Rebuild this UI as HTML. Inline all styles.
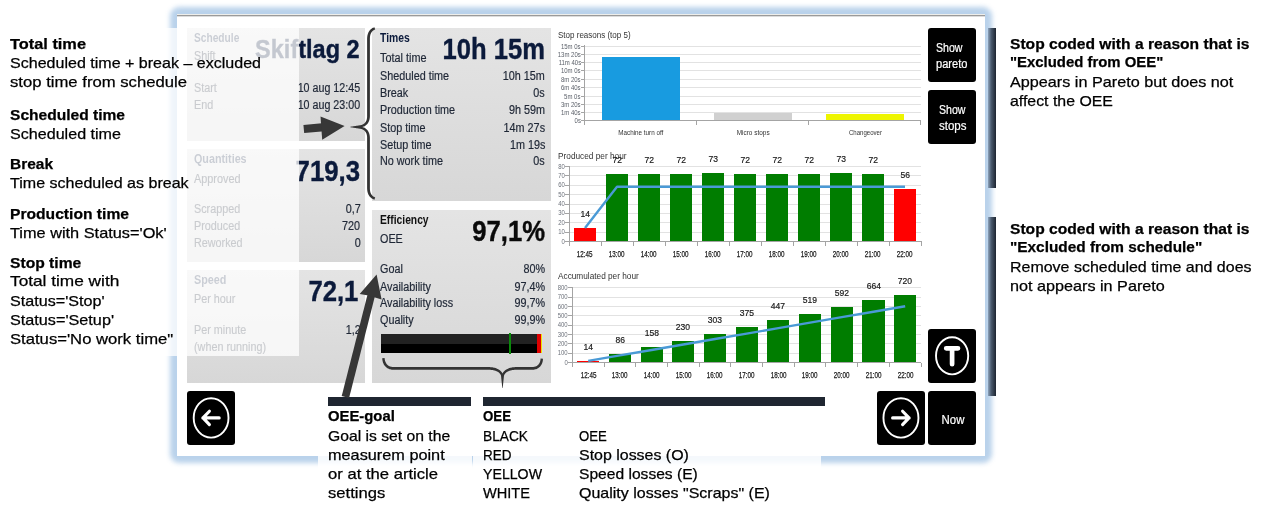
<!DOCTYPE html><html><head><meta charset="utf-8"><style>
html,body{margin:0;padding:0;background:#fff;}
body{width:1266px;height:512px;position:relative;overflow:hidden;font-family:'Liberation Sans', sans-serif;}
</style></head><body>
<div style="position:absolute;left:170px;top:7px;width:822px;height:456px;background:#b9d2eb;border-radius:9px;filter:blur(2.5px);"></div>
<div style="position:absolute;left:177px;top:14px;width:808px;height:442px;background:#fff;"></div>
<div style="position:absolute;left:177px;top:14px;width:808px;height:1px;background:#eeeeeb;"></div>
<div style="position:absolute;left:177px;top:15px;width:808px;height:1px;background:#9a9a9a;"></div>
<div style="position:absolute;left:177px;top:16px;width:808px;height:1px;background:#dcdcdc;"></div>
<div style="position:absolute;left:187px;top:28px;width:178px;height:113px;background:linear-gradient(#e4e4e4,#d7d7d7);"></div>
<div style="position:absolute;left:187px;top:149px;width:178px;height:113px;background:linear-gradient(#e4e4e4,#d7d7d7);"></div>
<div style="position:absolute;left:187px;top:270px;width:178px;height:113px;background:linear-gradient(#e4e4e4,#d7d7d7);"></div>
<div style="position:absolute;left:372px;top:28px;width:179px;height:173px;background:linear-gradient(#e4e4e4,#d7d7d7);"></div>
<div style="position:absolute;left:372px;top:210px;width:179px;height:173px;background:linear-gradient(#e4e4e4,#d7d7d7);"></div>
<div style="position:absolute;left:381px;top:334px;width:161px;height:9.5px;background:#222;"></div>
<div style="position:absolute;left:381px;top:343.5px;width:161px;height:9.5px;background:#000;"></div>
<div style="position:absolute;left:537px;top:334px;width:4.399999999999977px;height:19px;background:#e00000;"></div>
<div style="position:absolute;left:541.4px;top:334px;width:0.6000000000000227px;height:19px;background:#f0e000;"></div>
<div style="position:absolute;left:509px;top:333px;width:1.6000000000000227px;height:21px;background:#0a8a0a;"></div>
<div style="position:absolute;left:585px;top:46px;width:336px;height:1px;background:#e2e2e2;"></div>
<div style="position:absolute;left:581px;top:46px;width:4px;height:1px;background:#a4a4a4;"></div>
<div style="position:absolute;left:585px;top:54px;width:336px;height:1px;background:#e2e2e2;"></div>
<div style="position:absolute;left:581px;top:54px;width:4px;height:1px;background:#a4a4a4;"></div>
<div style="position:absolute;left:585px;top:62px;width:336px;height:1px;background:#e2e2e2;"></div>
<div style="position:absolute;left:581px;top:62px;width:4px;height:1px;background:#a4a4a4;"></div>
<div style="position:absolute;left:585px;top:70px;width:336px;height:1px;background:#e2e2e2;"></div>
<div style="position:absolute;left:581px;top:70px;width:4px;height:1px;background:#a4a4a4;"></div>
<div style="position:absolute;left:585px;top:79px;width:336px;height:1px;background:#e2e2e2;"></div>
<div style="position:absolute;left:581px;top:79px;width:4px;height:1px;background:#a4a4a4;"></div>
<div style="position:absolute;left:585px;top:87px;width:336px;height:1px;background:#e2e2e2;"></div>
<div style="position:absolute;left:581px;top:87px;width:4px;height:1px;background:#a4a4a4;"></div>
<div style="position:absolute;left:585px;top:96px;width:336px;height:1px;background:#e2e2e2;"></div>
<div style="position:absolute;left:581px;top:96px;width:4px;height:1px;background:#a4a4a4;"></div>
<div style="position:absolute;left:585px;top:104px;width:336px;height:1px;background:#e2e2e2;"></div>
<div style="position:absolute;left:581px;top:104px;width:4px;height:1px;background:#a4a4a4;"></div>
<div style="position:absolute;left:585px;top:112px;width:336px;height:1px;background:#e2e2e2;"></div>
<div style="position:absolute;left:581px;top:112px;width:4px;height:1px;background:#a4a4a4;"></div>
<div style="position:absolute;left:581px;top:120px;width:4px;height:1px;background:#a4a4a4;"></div>
<div style="position:absolute;left:601.7px;top:56.6px;width:78.5px;height:64.4px;background:#189be0;"></div>
<div style="position:absolute;left:713.9px;top:112.9px;width:78.10000000000002px;height:8.099999999999994px;background:#d0d0d0;"></div>
<div style="position:absolute;left:825.9px;top:114px;width:78.10000000000002px;height:7px;background:#eef500;"></div>
<div style="position:absolute;left:584px;top:45px;width:1px;height:76px;background:#a4a4a4;"></div>
<div style="position:absolute;left:584px;top:120px;width:337px;height:1px;background:#a4a4a4;"></div>
<div style="position:absolute;left:584px;top:121px;width:1px;height:4px;background:#a4a4a4;"></div>
<div style="position:absolute;left:696px;top:121px;width:1px;height:4px;background:#a4a4a4;"></div>
<div style="position:absolute;left:808px;top:121px;width:1px;height:4px;background:#a4a4a4;"></div>
<div style="position:absolute;left:920px;top:121px;width:1px;height:4px;background:#a4a4a4;"></div>
<div style="position:absolute;left:569.5px;top:166px;width:351.5px;height:1px;background:#e2e2e2;"></div>
<div style="position:absolute;left:565px;top:166px;width:4px;height:1px;background:#a4a4a4;"></div>
<div style="position:absolute;left:569.5px;top:175px;width:351.5px;height:1px;background:#e2e2e2;"></div>
<div style="position:absolute;left:565px;top:175px;width:4px;height:1px;background:#a4a4a4;"></div>
<div style="position:absolute;left:569.5px;top:185px;width:351.5px;height:1px;background:#e2e2e2;"></div>
<div style="position:absolute;left:565px;top:185px;width:4px;height:1px;background:#a4a4a4;"></div>
<div style="position:absolute;left:569.5px;top:194px;width:351.5px;height:1px;background:#e2e2e2;"></div>
<div style="position:absolute;left:565px;top:194px;width:4px;height:1px;background:#a4a4a4;"></div>
<div style="position:absolute;left:569.5px;top:204px;width:351.5px;height:1px;background:#e2e2e2;"></div>
<div style="position:absolute;left:565px;top:204px;width:4px;height:1px;background:#a4a4a4;"></div>
<div style="position:absolute;left:569.5px;top:213px;width:351.5px;height:1px;background:#e2e2e2;"></div>
<div style="position:absolute;left:565px;top:213px;width:4px;height:1px;background:#a4a4a4;"></div>
<div style="position:absolute;left:569.5px;top:222px;width:351.5px;height:1px;background:#e2e2e2;"></div>
<div style="position:absolute;left:565px;top:222px;width:4px;height:1px;background:#a4a4a4;"></div>
<div style="position:absolute;left:569.5px;top:232px;width:351.5px;height:1px;background:#e2e2e2;"></div>
<div style="position:absolute;left:565px;top:232px;width:4px;height:1px;background:#a4a4a4;"></div>
<div style="position:absolute;left:565px;top:241px;width:4px;height:1px;background:#a4a4a4;"></div>
<div style="position:absolute;left:568.5px;top:166.1px;width:1.0px;height:75.9px;background:#a4a4a4;"></div>
<div style="position:absolute;left:568.5px;top:241px;width:353.0px;height:1px;background:#a4a4a4;"></div>
<div style="position:absolute;left:568.5px;top:242px;width:1.0px;height:4px;background:#a4a4a4;"></div>
<div style="position:absolute;left:600.5px;top:242px;width:1.0px;height:4px;background:#a4a4a4;"></div>
<div style="position:absolute;left:632.5px;top:242px;width:1.0px;height:4px;background:#a4a4a4;"></div>
<div style="position:absolute;left:664.5px;top:242px;width:1.0px;height:4px;background:#a4a4a4;"></div>
<div style="position:absolute;left:696.5px;top:242px;width:1.0px;height:4px;background:#a4a4a4;"></div>
<div style="position:absolute;left:728.5px;top:242px;width:1.0px;height:4px;background:#a4a4a4;"></div>
<div style="position:absolute;left:760.5px;top:242px;width:1.0px;height:4px;background:#a4a4a4;"></div>
<div style="position:absolute;left:792.5px;top:242px;width:1.0px;height:4px;background:#a4a4a4;"></div>
<div style="position:absolute;left:824.5px;top:242px;width:1.0px;height:4px;background:#a4a4a4;"></div>
<div style="position:absolute;left:856.5px;top:242px;width:1.0px;height:4px;background:#a4a4a4;"></div>
<div style="position:absolute;left:888.5px;top:242px;width:1.0px;height:4px;background:#a4a4a4;"></div>
<div style="position:absolute;left:920.5px;top:242px;width:1.0px;height:4px;background:#a4a4a4;"></div>
<div style="position:absolute;left:573.8px;top:227.89249999999998px;width:22.40000000000009px;height:13.107500000000016px;background:#ff0000;"></div>
<div style="position:absolute;left:605.8px;top:173.59px;width:22.40000000000009px;height:67.41px;background:#007d00;"></div>
<div style="position:absolute;left:637.8px;top:173.59px;width:22.40000000000009px;height:67.41px;background:#007d00;"></div>
<div style="position:absolute;left:669.8px;top:173.59px;width:22.40000000000009px;height:67.41px;background:#007d00;"></div>
<div style="position:absolute;left:701.8px;top:172.65375px;width:22.40000000000009px;height:68.34625px;background:#007d00;"></div>
<div style="position:absolute;left:733.8px;top:173.59px;width:22.40000000000009px;height:67.41px;background:#007d00;"></div>
<div style="position:absolute;left:765.8px;top:173.59px;width:22.40000000000009px;height:67.41px;background:#007d00;"></div>
<div style="position:absolute;left:797.8px;top:173.59px;width:22.40000000000009px;height:67.41px;background:#007d00;"></div>
<div style="position:absolute;left:829.8px;top:172.65375px;width:22.40000000000009px;height:68.34625px;background:#007d00;"></div>
<div style="position:absolute;left:861.8px;top:173.59px;width:22.40000000000009px;height:67.41px;background:#007d00;"></div>
<div style="position:absolute;left:893.8px;top:188.57px;width:22.40000000000009px;height:52.43000000000001px;background:#ff0000;"></div>
<svg style="position:absolute;left:0;top:0" width="1266" height="512"><path d="M585.0,227.9 L617.0,186.7 L649.0,186.7 L681.0,186.7 L713.0,186.7 L745.0,186.7 L777.0,186.7 L809.0,186.7 L841.0,186.7 L873.0,186.7 L905.0,186.7" fill="none" stroke="#4a9ad6" stroke-width="2.4" stroke-linejoin="round"/></svg>
<div style="position:absolute;left:572.9px;top:287px;width:348.1px;height:1px;background:#e2e2e2;"></div>
<div style="position:absolute;left:568.4px;top:287px;width:4.0px;height:1px;background:#a4a4a4;"></div>
<div style="position:absolute;left:572.9px;top:297px;width:348.1px;height:1px;background:#e2e2e2;"></div>
<div style="position:absolute;left:568.4px;top:297px;width:4.0px;height:1px;background:#a4a4a4;"></div>
<div style="position:absolute;left:572.9px;top:306px;width:348.1px;height:1px;background:#e2e2e2;"></div>
<div style="position:absolute;left:568.4px;top:306px;width:4.0px;height:1px;background:#a4a4a4;"></div>
<div style="position:absolute;left:572.9px;top:315px;width:348.1px;height:1px;background:#e2e2e2;"></div>
<div style="position:absolute;left:568.4px;top:315px;width:4.0px;height:1px;background:#a4a4a4;"></div>
<div style="position:absolute;left:572.9px;top:325px;width:348.1px;height:1px;background:#e2e2e2;"></div>
<div style="position:absolute;left:568.4px;top:325px;width:4.0px;height:1px;background:#a4a4a4;"></div>
<div style="position:absolute;left:572.9px;top:334px;width:348.1px;height:1px;background:#e2e2e2;"></div>
<div style="position:absolute;left:568.4px;top:334px;width:4.0px;height:1px;background:#a4a4a4;"></div>
<div style="position:absolute;left:572.9px;top:343px;width:348.1px;height:1px;background:#e2e2e2;"></div>
<div style="position:absolute;left:568.4px;top:343px;width:4.0px;height:1px;background:#a4a4a4;"></div>
<div style="position:absolute;left:572.9px;top:353px;width:348.1px;height:1px;background:#e2e2e2;"></div>
<div style="position:absolute;left:568.4px;top:353px;width:4.0px;height:1px;background:#a4a4a4;"></div>
<div style="position:absolute;left:568.4px;top:362px;width:4.0px;height:1px;background:#a4a4a4;"></div>
<div style="position:absolute;left:571.9px;top:287.3px;width:1.0px;height:75.89999999999998px;background:#a4a4a4;"></div>
<div style="position:absolute;left:571.9px;top:362.2px;width:349.6px;height:1.0px;background:#a4a4a4;"></div>
<div style="position:absolute;left:571.9px;top:363.2px;width:1.0px;height:4.0px;background:#a4a4a4;"></div>
<div style="position:absolute;left:603.5909090909091px;top:363.2px;width:1.0px;height:4.0px;background:#a4a4a4;"></div>
<div style="position:absolute;left:635.2818181818182px;top:363.2px;width:1.0px;height:4.0px;background:#a4a4a4;"></div>
<div style="position:absolute;left:666.9727272727273px;top:363.2px;width:1.0px;height:4.0px;background:#a4a4a4;"></div>
<div style="position:absolute;left:698.6636363636363px;top:363.2px;width:1.0px;height:4.0px;background:#a4a4a4;"></div>
<div style="position:absolute;left:730.3545454545455px;top:363.2px;width:1.0px;height:4.0px;background:#a4a4a4;"></div>
<div style="position:absolute;left:762.0454545454545px;top:363.2px;width:1.0px;height:4.0px;background:#a4a4a4;"></div>
<div style="position:absolute;left:793.7363636363636px;top:363.2px;width:1.0px;height:4.0px;background:#a4a4a4;"></div>
<div style="position:absolute;left:825.4272727272727px;top:363.2px;width:1.0px;height:4.0px;background:#a4a4a4;"></div>
<div style="position:absolute;left:857.1181818181818px;top:363.2px;width:1.0px;height:4.0px;background:#a4a4a4;"></div>
<div style="position:absolute;left:888.8090909090909px;top:363.2px;width:1.0px;height:4.0px;background:#a4a4a4;"></div>
<div style="position:absolute;left:920.5px;top:363.2px;width:1.0px;height:4.0px;background:#a4a4a4;"></div>
<div style="position:absolute;left:577.1536363636363px;top:360.88925px;width:22.183636363636424px;height:1.3107499999999845px;background:#ff0000;"></div>
<div style="position:absolute;left:608.8445454545454px;top:354.14825px;width:22.183636363636424px;height:8.05174999999997px;background:#007d00;"></div>
<div style="position:absolute;left:640.5354545454545px;top:347.40725px;width:22.183636363636424px;height:14.792750000000012px;background:#007d00;"></div>
<div style="position:absolute;left:672.2263636363635px;top:340.66625px;width:22.183636363636424px;height:21.533749999999998px;background:#007d00;"></div>
<div style="position:absolute;left:703.9172727272727px;top:333.831625px;width:22.183636363636424px;height:28.368375000000015px;background:#007d00;"></div>
<div style="position:absolute;left:735.6081818181818px;top:327.090625px;width:22.183636363636424px;height:35.109375px;background:#007d00;"></div>
<div style="position:absolute;left:767.2990909090909px;top:320.349625px;width:22.183636363636424px;height:41.850374999999985px;background:#007d00;"></div>
<div style="position:absolute;left:798.9899999999999px;top:313.608625px;width:22.183636363636424px;height:48.59137499999997px;background:#007d00;"></div>
<div style="position:absolute;left:830.680909090909px;top:306.774px;width:22.183636363636424px;height:55.42599999999999px;background:#007d00;"></div>
<div style="position:absolute;left:862.3718181818182px;top:300.033px;width:22.183636363636424px;height:62.16699999999997px;background:#007d00;"></div>
<div style="position:absolute;left:894.0627272727272px;top:294.79px;width:22.183636363636424px;height:67.40999999999997px;background:#007d00;"></div>
<svg style="position:absolute;left:0;top:0" width="1266" height="512"><path d="M588.2,360.9 L619.9,355.4 L651.6,350.0 L683.3,344.5 L715.0,339.0 L746.7,333.6 L778.4,328.1 L810.1,322.6 L841.8,317.1 L873.5,311.7 L905.2,306.2" fill="none" stroke="#4a9ad6" stroke-width="2.4" stroke-linejoin="round"/></svg>
<div style="position:absolute;left:194.40px;top:32.10px;font:bold 12px/12px 'Liberation Sans', sans-serif;color:#24324f;white-space:pre;transform:scaleX(0.8490);transform-origin:left 0;">Schedule</div>
<div style="position:absolute;left:194.40px;top:49.60px;font:normal 12px/12px 'Liberation Sans', sans-serif;color:#1f2736;white-space:pre;transform:scaleX(0.9000);transform-origin:left 0;-webkit-text-stroke:0.2px #1f2736;">Shift</div>
<div style="position:absolute;left:244.01px;top:35.90px;font:bold 26px/26px 'Liberation Sans', sans-serif;color:#0b1a3b;white-space:pre;transform:scaleX(0.9040);transform-origin:right 0;-webkit-text-stroke:0.4px currentColor;">Skiftlag 2</div>
<div style="position:absolute;left:194.40px;top:82.20px;font:normal 12px/12px 'Liberation Sans', sans-serif;color:#1f2736;white-space:pre;transform:scaleX(0.9000);transform-origin:left 0;-webkit-text-stroke:0.2px #1f2736;">Start</div>
<div style="position:absolute;left:289.92px;top:82.20px;font:normal 12px/12px 'Liberation Sans', sans-serif;color:#1f2736;white-space:pre;transform:scaleX(0.8904);transform-origin:right 0;-webkit-text-stroke:0.2px #1f2736;">10 aug 12:45</div>
<div style="position:absolute;left:194.40px;top:98.90px;font:normal 12px/12px 'Liberation Sans', sans-serif;color:#1f2736;white-space:pre;transform:scaleX(0.9000);transform-origin:left 0;-webkit-text-stroke:0.2px #1f2736;">End</div>
<div style="position:absolute;left:289.92px;top:98.90px;font:normal 12px/12px 'Liberation Sans', sans-serif;color:#1f2736;white-space:pre;transform:scaleX(0.8904);transform-origin:right 0;-webkit-text-stroke:0.2px #1f2736;">10 aug 23:00</div>
<div style="position:absolute;left:194.40px;top:153.30px;font:bold 12px/12px 'Liberation Sans', sans-serif;color:#24324f;white-space:pre;transform:scaleX(0.8963);transform-origin:left 0;">Quantities</div>
<div style="position:absolute;left:194.40px;top:172.80px;font:normal 12px/12px 'Liberation Sans', sans-serif;color:#1f2736;white-space:pre;transform:scaleX(0.9071);transform-origin:left 0;-webkit-text-stroke:0.2px #1f2736;">Approved</div>
<div style="position:absolute;left:285.12px;top:156.00px;font:bold 30px/30px 'Liberation Sans', sans-serif;color:#0b1a3b;white-space:pre;transform:scaleX(0.8591);transform-origin:right 0;-webkit-text-stroke:0.4px currentColor;">719,3</div>
<div style="position:absolute;left:194.40px;top:203.00px;font:normal 12px/12px 'Liberation Sans', sans-serif;color:#1f2736;white-space:pre;transform:scaleX(0.9000);transform-origin:left 0;-webkit-text-stroke:0.2px #1f2736;">Scrapped</div>
<div style="position:absolute;left:343.81px;top:203.00px;font:normal 12px/12px 'Liberation Sans', sans-serif;color:#1f2736;white-space:pre;transform:scaleX(0.9000);transform-origin:right 0;-webkit-text-stroke:0.2px #1f2736;">0,7</div>
<div style="position:absolute;left:194.40px;top:220.00px;font:normal 12px/12px 'Liberation Sans', sans-serif;color:#1f2736;white-space:pre;transform:scaleX(0.9000);transform-origin:left 0;-webkit-text-stroke:0.2px #1f2736;">Produced</div>
<div style="position:absolute;left:340.47px;top:220.00px;font:normal 12px/12px 'Liberation Sans', sans-serif;color:#1f2736;white-space:pre;transform:scaleX(0.9000);transform-origin:right 0;-webkit-text-stroke:0.2px #1f2736;">720</div>
<div style="position:absolute;left:194.40px;top:236.70px;font:normal 12px/12px 'Liberation Sans', sans-serif;color:#1f2736;white-space:pre;transform:scaleX(0.9000);transform-origin:left 0;-webkit-text-stroke:0.2px #1f2736;">Reworked</div>
<div style="position:absolute;left:353.81px;top:236.70px;font:normal 12px/12px 'Liberation Sans', sans-serif;color:#1f2736;white-space:pre;transform:scaleX(0.9000);transform-origin:right 0;-webkit-text-stroke:0.2px #1f2736;">0</div>
<div style="position:absolute;left:194.40px;top:274.40px;font:bold 12px/12px 'Liberation Sans', sans-serif;color:#24324f;white-space:pre;transform:scaleX(0.9000);transform-origin:left 0;">Speed</div>
<div style="position:absolute;left:194.40px;top:293.40px;font:normal 12px/12px 'Liberation Sans', sans-serif;color:#1f2736;white-space:pre;transform:scaleX(0.9000);transform-origin:left 0;-webkit-text-stroke:0.2px #1f2736;">Per hour</div>
<div style="position:absolute;left:300.21px;top:276.10px;font:bold 30px/30px 'Liberation Sans', sans-serif;color:#0b1a3b;white-space:pre;transform:scaleX(0.8563);transform-origin:right 0;-webkit-text-stroke:0.4px currentColor;">72,1</div>
<div style="position:absolute;left:194.40px;top:324.20px;font:normal 12px/12px 'Liberation Sans', sans-serif;color:#1f2736;white-space:pre;transform:scaleX(0.9000);transform-origin:left 0;-webkit-text-stroke:0.2px #1f2736;">Per minute</div>
<div style="position:absolute;left:343.61px;top:324.20px;font:normal 12px/12px 'Liberation Sans', sans-serif;color:#1f2736;white-space:pre;transform:scaleX(0.9000);transform-origin:right 0;-webkit-text-stroke:0.2px #1f2736;">1,2</div>
<div style="position:absolute;left:194.40px;top:340.70px;font:normal 12px/12px 'Liberation Sans', sans-serif;color:#1f2736;white-space:pre;transform:scaleX(0.9000);transform-origin:left 0;-webkit-text-stroke:0.2px #1f2736;">(when running)</div>
<div style="position:absolute;left:380.00px;top:32.10px;font:bold 12px/12px 'Liberation Sans', sans-serif;color:#0b1a3b;white-space:pre;transform:scaleX(0.8646);transform-origin:left 0;">Times</div>
<div style="position:absolute;left:380.00px;top:51.70px;font:normal 12px/12px 'Liberation Sans', sans-serif;color:#1f2736;white-space:pre;transform:scaleX(0.9054);transform-origin:left 0;-webkit-text-stroke:0.2px #1f2736;">Total time</div>
<div style="position:absolute;left:425.32px;top:34.30px;font:bold 30px/30px 'Liberation Sans', sans-serif;color:#0b1a3b;white-space:pre;transform:scaleX(0.8536);transform-origin:right 0;-webkit-text-stroke:0.4px currentColor;">10h 15m</div>
<div style="position:absolute;left:380.00px;top:70.40px;font:normal 12px/12px 'Liberation Sans', sans-serif;color:#1f2736;white-space:pre;transform:scaleX(0.9000);transform-origin:left 0;-webkit-text-stroke:0.2px #1f2736;">Sheduled time</div>
<div style="position:absolute;left:498.30px;top:70.40px;font:normal 12px/12px 'Liberation Sans', sans-serif;color:#1f2736;white-space:pre;transform:scaleX(0.9000);transform-origin:right 0;-webkit-text-stroke:0.2px #1f2736;">10h 15m</div>
<div style="position:absolute;left:380.00px;top:87.10px;font:normal 12px/12px 'Liberation Sans', sans-serif;color:#1f2736;white-space:pre;transform:scaleX(0.9000);transform-origin:left 0;-webkit-text-stroke:0.2px #1f2736;">Break</div>
<div style="position:absolute;left:532.31px;top:87.10px;font:normal 12px/12px 'Liberation Sans', sans-serif;color:#1f2736;white-space:pre;transform:scaleX(0.9000);transform-origin:right 0;-webkit-text-stroke:0.2px #1f2736;">0s</div>
<div style="position:absolute;left:380.00px;top:104.10px;font:normal 12px/12px 'Liberation Sans', sans-serif;color:#1f2736;white-space:pre;transform:scaleX(0.9000);transform-origin:left 0;-webkit-text-stroke:0.2px #1f2736;">Production time</div>
<div style="position:absolute;left:504.97px;top:104.10px;font:normal 12px/12px 'Liberation Sans', sans-serif;color:#1f2736;white-space:pre;transform:scaleX(0.9000);transform-origin:right 0;-webkit-text-stroke:0.2px #1f2736;">9h 59m</div>
<div style="position:absolute;left:380.00px;top:121.90px;font:normal 12px/12px 'Liberation Sans', sans-serif;color:#1f2736;white-space:pre;transform:scaleX(0.9000);transform-origin:left 0;-webkit-text-stroke:0.2px #1f2736;">Stop time</div>
<div style="position:absolute;left:498.97px;top:121.90px;font:normal 12px/12px 'Liberation Sans', sans-serif;color:#1f2736;white-space:pre;transform:scaleX(0.9000);transform-origin:right 0;-webkit-text-stroke:0.2px #1f2736;">14m 27s</div>
<div style="position:absolute;left:380.00px;top:138.60px;font:normal 12px/12px 'Liberation Sans', sans-serif;color:#1f2736;white-space:pre;transform:scaleX(0.9000);transform-origin:left 0;-webkit-text-stroke:0.2px #1f2736;">Setup time</div>
<div style="position:absolute;left:505.64px;top:138.60px;font:normal 12px/12px 'Liberation Sans', sans-serif;color:#1f2736;white-space:pre;transform:scaleX(0.9000);transform-origin:right 0;-webkit-text-stroke:0.2px #1f2736;">1m 19s</div>
<div style="position:absolute;left:380.00px;top:155.30px;font:normal 12px/12px 'Liberation Sans', sans-serif;color:#1f2736;white-space:pre;transform:scaleX(0.9000);transform-origin:left 0;-webkit-text-stroke:0.2px #1f2736;">No work time</div>
<div style="position:absolute;left:532.31px;top:155.30px;font:normal 12px/12px 'Liberation Sans', sans-serif;color:#1f2736;white-space:pre;transform:scaleX(0.9000);transform-origin:right 0;-webkit-text-stroke:0.2px #1f2736;">0s</div>
<div style="position:absolute;left:380.00px;top:214.30px;font:bold 12px/12px 'Liberation Sans', sans-serif;color:#111;white-space:pre;transform:scaleX(0.8571);transform-origin:left 0;">Efficiency</div>
<div style="position:absolute;left:380.00px;top:233.10px;font:normal 12px/12px 'Liberation Sans', sans-serif;color:#1f2736;white-space:pre;transform:scaleX(0.9000);transform-origin:left 0;-webkit-text-stroke:0.2px #1f2736;">OEE</div>
<div style="position:absolute;left:459.52px;top:216.30px;font:bold 30px/30px 'Liberation Sans', sans-serif;color:#0a0a0a;white-space:pre;transform:scaleX(0.8557);transform-origin:right 0;-webkit-text-stroke:0.4px currentColor;">97,1%</div>
<div style="position:absolute;left:380.00px;top:263.30px;font:normal 12px/12px 'Liberation Sans', sans-serif;color:#1f2736;white-space:pre;transform:scaleX(0.9000);transform-origin:left 0;-webkit-text-stroke:0.2px #1f2736;">Goal</div>
<div style="position:absolute;left:520.97px;top:263.30px;font:normal 12px/12px 'Liberation Sans', sans-serif;color:#1f2736;white-space:pre;transform:scaleX(0.9000);transform-origin:right 0;-webkit-text-stroke:0.2px #1f2736;">80%</div>
<div style="position:absolute;left:380.00px;top:280.50px;font:normal 12px/12px 'Liberation Sans', sans-serif;color:#1f2736;white-space:pre;transform:scaleX(0.9000);transform-origin:left 0;-webkit-text-stroke:0.2px #1f2736;">Availability</div>
<div style="position:absolute;left:510.97px;top:280.50px;font:normal 12px/12px 'Liberation Sans', sans-serif;color:#1f2736;white-space:pre;transform:scaleX(0.9000);transform-origin:right 0;-webkit-text-stroke:0.2px #1f2736;">97,4%</div>
<div style="position:absolute;left:380.00px;top:297.30px;font:normal 12px/12px 'Liberation Sans', sans-serif;color:#1f2736;white-space:pre;transform:scaleX(0.9000);transform-origin:left 0;-webkit-text-stroke:0.2px #1f2736;">Availability loss</div>
<div style="position:absolute;left:510.97px;top:297.30px;font:normal 12px/12px 'Liberation Sans', sans-serif;color:#1f2736;white-space:pre;transform:scaleX(0.9000);transform-origin:right 0;-webkit-text-stroke:0.2px #1f2736;">99,7%</div>
<div style="position:absolute;left:380.00px;top:314.00px;font:normal 12px/12px 'Liberation Sans', sans-serif;color:#1f2736;white-space:pre;transform:scaleX(0.9000);transform-origin:left 0;-webkit-text-stroke:0.2px #1f2736;">Quality</div>
<div style="position:absolute;left:510.97px;top:314.00px;font:normal 12px/12px 'Liberation Sans', sans-serif;color:#1f2736;white-space:pre;transform:scaleX(0.9000);transform-origin:right 0;-webkit-text-stroke:0.2px #1f2736;">99,9%</div>
<div style="position:absolute;left:557.90px;top:30.90px;font:normal 9px/9px 'Liberation Sans', sans-serif;color:#333;white-space:pre;transform:scaleX(0.8903);transform-origin:left 0;">Stop reasons (top 5)</div>
<div style="position:absolute;left:556.19px;top:43.20px;font:normal 7.5px/7.5px 'Liberation Sans', sans-serif;color:#5a5f68;white-space:pre;transform:scaleX(0.8000);transform-origin:right 0;">15m 0s</div>
<div style="position:absolute;left:552.02px;top:51.20px;font:normal 7.5px/7.5px 'Liberation Sans', sans-serif;color:#5a5f68;white-space:pre;transform:scaleX(0.8000);transform-origin:right 0;">13m 20s</div>
<div style="position:absolute;left:552.58px;top:59.20px;font:normal 7.5px/7.5px 'Liberation Sans', sans-serif;color:#5a5f68;white-space:pre;transform:scaleX(0.8000);transform-origin:right 0;">11m 40s</div>
<div style="position:absolute;left:556.19px;top:67.20px;font:normal 7.5px/7.5px 'Liberation Sans', sans-serif;color:#5a5f68;white-space:pre;transform:scaleX(0.8000);transform-origin:right 0;">10m 0s</div>
<div style="position:absolute;left:556.19px;top:76.20px;font:normal 7.5px/7.5px 'Liberation Sans', sans-serif;color:#5a5f68;white-space:pre;transform:scaleX(0.8000);transform-origin:right 0;">8m 20s</div>
<div style="position:absolute;left:556.19px;top:84.20px;font:normal 7.5px/7.5px 'Liberation Sans', sans-serif;color:#5a5f68;white-space:pre;transform:scaleX(0.8000);transform-origin:right 0;">6m 40s</div>
<div style="position:absolute;left:560.36px;top:93.20px;font:normal 7.5px/7.5px 'Liberation Sans', sans-serif;color:#5a5f68;white-space:pre;transform:scaleX(0.8000);transform-origin:right 0;">5m 0s</div>
<div style="position:absolute;left:556.19px;top:101.20px;font:normal 7.5px/7.5px 'Liberation Sans', sans-serif;color:#5a5f68;white-space:pre;transform:scaleX(0.8000);transform-origin:right 0;">3m 20s</div>
<div style="position:absolute;left:556.19px;top:109.20px;font:normal 7.5px/7.5px 'Liberation Sans', sans-serif;color:#5a5f68;white-space:pre;transform:scaleX(0.8000);transform-origin:right 0;">1m 40s</div>
<div style="position:absolute;left:572.88px;top:117.20px;font:normal 7.5px/7.5px 'Liberation Sans', sans-serif;color:#5a5f68;white-space:pre;transform:scaleX(0.8000);transform-origin:right 0;">0s</div>
<div style="position:absolute;left:614.17px;top:129.00px;font:normal 7.5px/7.5px 'Liberation Sans', sans-serif;color:#333;white-space:pre;transform:scaleX(0.8387);transform-origin:center 0;">Machine turn off</div>
<div style="position:absolute;left:733.63px;top:129.00px;font:normal 7.5px/7.5px 'Liberation Sans', sans-serif;color:#333;white-space:pre;transform:scaleX(0.8606);transform-origin:center 0;">Micro stops</div>
<div style="position:absolute;left:844.86px;top:129.00px;font:normal 7.5px/7.5px 'Liberation Sans', sans-serif;color:#333;white-space:pre;transform:scaleX(0.8073);transform-origin:center 0;">Changeover</div>
<div style="position:absolute;left:557.90px;top:151.60px;font:normal 9px/9px 'Liberation Sans', sans-serif;color:#333;white-space:pre;transform:scaleX(0.9200);transform-origin:left 0;">Produced per hour</div>
<div style="position:absolute;left:556.70px;top:162.60px;font:normal 7px/7px 'Liberation Sans', sans-serif;color:#6c717a;white-space:pre;transform:scaleX(0.8500);transform-origin:right 0;">80</div>
<div style="position:absolute;left:556.70px;top:171.96px;font:normal 7px/7px 'Liberation Sans', sans-serif;color:#6c717a;white-space:pre;transform:scaleX(0.8500);transform-origin:right 0;">70</div>
<div style="position:absolute;left:556.70px;top:181.32px;font:normal 7px/7px 'Liberation Sans', sans-serif;color:#6c717a;white-space:pre;transform:scaleX(0.8500);transform-origin:right 0;">60</div>
<div style="position:absolute;left:556.70px;top:190.69px;font:normal 7px/7px 'Liberation Sans', sans-serif;color:#6c717a;white-space:pre;transform:scaleX(0.8500);transform-origin:right 0;">50</div>
<div style="position:absolute;left:556.70px;top:200.05px;font:normal 7px/7px 'Liberation Sans', sans-serif;color:#6c717a;white-space:pre;transform:scaleX(0.8500);transform-origin:right 0;">40</div>
<div style="position:absolute;left:556.70px;top:209.41px;font:normal 7px/7px 'Liberation Sans', sans-serif;color:#6c717a;white-space:pre;transform:scaleX(0.8500);transform-origin:right 0;">30</div>
<div style="position:absolute;left:556.70px;top:218.78px;font:normal 7px/7px 'Liberation Sans', sans-serif;color:#6c717a;white-space:pre;transform:scaleX(0.8500);transform-origin:right 0;">20</div>
<div style="position:absolute;left:556.70px;top:228.14px;font:normal 7px/7px 'Liberation Sans', sans-serif;color:#6c717a;white-space:pre;transform:scaleX(0.8500);transform-origin:right 0;">10</div>
<div style="position:absolute;left:560.59px;top:237.50px;font:normal 7px/7px 'Liberation Sans', sans-serif;color:#6c717a;white-space:pre;transform:scaleX(0.8500);transform-origin:right 0;">0</div>
<div style="position:absolute;left:579.71px;top:208.89px;font:normal 9.5px/9.5px 'Liberation Sans', sans-serif;color:#1a1a1a;white-space:pre;transform:scaleX(0.9000);transform-origin:center 0;-webkit-text-stroke:0.2px #1a1a1a;">14</div>
<div style="position:absolute;left:574.36px;top:249.90px;font:normal 8.5px/8.5px 'Liberation Sans', sans-serif;color:#1a1a1a;white-space:pre;transform:scaleX(0.7400);transform-origin:center 0;-webkit-text-stroke:0.25px #1a1a1a;">12:45</div>
<div style="position:absolute;left:611.71px;top:154.59px;font:normal 9.5px/9.5px 'Liberation Sans', sans-serif;color:#1a1a1a;white-space:pre;transform:scaleX(0.9000);transform-origin:center 0;-webkit-text-stroke:0.2px #1a1a1a;">72</div>
<div style="position:absolute;left:606.36px;top:249.90px;font:normal 8.5px/8.5px 'Liberation Sans', sans-serif;color:#1a1a1a;white-space:pre;transform:scaleX(0.7400);transform-origin:center 0;-webkit-text-stroke:0.25px #1a1a1a;">13:00</div>
<div style="position:absolute;left:643.71px;top:154.59px;font:normal 9.5px/9.5px 'Liberation Sans', sans-serif;color:#1a1a1a;white-space:pre;transform:scaleX(0.9000);transform-origin:center 0;-webkit-text-stroke:0.2px #1a1a1a;">72</div>
<div style="position:absolute;left:638.36px;top:249.90px;font:normal 8.5px/8.5px 'Liberation Sans', sans-serif;color:#1a1a1a;white-space:pre;transform:scaleX(0.7400);transform-origin:center 0;-webkit-text-stroke:0.25px #1a1a1a;">14:00</div>
<div style="position:absolute;left:675.71px;top:154.59px;font:normal 9.5px/9.5px 'Liberation Sans', sans-serif;color:#1a1a1a;white-space:pre;transform:scaleX(0.9000);transform-origin:center 0;-webkit-text-stroke:0.2px #1a1a1a;">72</div>
<div style="position:absolute;left:670.36px;top:249.90px;font:normal 8.5px/8.5px 'Liberation Sans', sans-serif;color:#1a1a1a;white-space:pre;transform:scaleX(0.7400);transform-origin:center 0;-webkit-text-stroke:0.25px #1a1a1a;">15:00</div>
<div style="position:absolute;left:707.71px;top:153.65px;font:normal 9.5px/9.5px 'Liberation Sans', sans-serif;color:#1a1a1a;white-space:pre;transform:scaleX(0.9000);transform-origin:center 0;-webkit-text-stroke:0.2px #1a1a1a;">73</div>
<div style="position:absolute;left:702.36px;top:249.90px;font:normal 8.5px/8.5px 'Liberation Sans', sans-serif;color:#1a1a1a;white-space:pre;transform:scaleX(0.7400);transform-origin:center 0;-webkit-text-stroke:0.25px #1a1a1a;">16:00</div>
<div style="position:absolute;left:739.71px;top:154.59px;font:normal 9.5px/9.5px 'Liberation Sans', sans-serif;color:#1a1a1a;white-space:pre;transform:scaleX(0.9000);transform-origin:center 0;-webkit-text-stroke:0.2px #1a1a1a;">72</div>
<div style="position:absolute;left:734.36px;top:249.90px;font:normal 8.5px/8.5px 'Liberation Sans', sans-serif;color:#1a1a1a;white-space:pre;transform:scaleX(0.7400);transform-origin:center 0;-webkit-text-stroke:0.25px #1a1a1a;">17:00</div>
<div style="position:absolute;left:771.71px;top:154.59px;font:normal 9.5px/9.5px 'Liberation Sans', sans-serif;color:#1a1a1a;white-space:pre;transform:scaleX(0.9000);transform-origin:center 0;-webkit-text-stroke:0.2px #1a1a1a;">72</div>
<div style="position:absolute;left:766.36px;top:249.90px;font:normal 8.5px/8.5px 'Liberation Sans', sans-serif;color:#1a1a1a;white-space:pre;transform:scaleX(0.7400);transform-origin:center 0;-webkit-text-stroke:0.25px #1a1a1a;">18:00</div>
<div style="position:absolute;left:803.71px;top:154.59px;font:normal 9.5px/9.5px 'Liberation Sans', sans-serif;color:#1a1a1a;white-space:pre;transform:scaleX(0.9000);transform-origin:center 0;-webkit-text-stroke:0.2px #1a1a1a;">72</div>
<div style="position:absolute;left:798.36px;top:249.90px;font:normal 8.5px/8.5px 'Liberation Sans', sans-serif;color:#1a1a1a;white-space:pre;transform:scaleX(0.7400);transform-origin:center 0;-webkit-text-stroke:0.25px #1a1a1a;">19:00</div>
<div style="position:absolute;left:835.71px;top:153.65px;font:normal 9.5px/9.5px 'Liberation Sans', sans-serif;color:#1a1a1a;white-space:pre;transform:scaleX(0.9000);transform-origin:center 0;-webkit-text-stroke:0.2px #1a1a1a;">73</div>
<div style="position:absolute;left:830.36px;top:249.90px;font:normal 8.5px/8.5px 'Liberation Sans', sans-serif;color:#1a1a1a;white-space:pre;transform:scaleX(0.7400);transform-origin:center 0;-webkit-text-stroke:0.25px #1a1a1a;">20:00</div>
<div style="position:absolute;left:867.71px;top:154.59px;font:normal 9.5px/9.5px 'Liberation Sans', sans-serif;color:#1a1a1a;white-space:pre;transform:scaleX(0.9000);transform-origin:center 0;-webkit-text-stroke:0.2px #1a1a1a;">72</div>
<div style="position:absolute;left:862.36px;top:249.90px;font:normal 8.5px/8.5px 'Liberation Sans', sans-serif;color:#1a1a1a;white-space:pre;transform:scaleX(0.7400);transform-origin:center 0;-webkit-text-stroke:0.25px #1a1a1a;">21:00</div>
<div style="position:absolute;left:899.71px;top:169.57px;font:normal 9.5px/9.5px 'Liberation Sans', sans-serif;color:#1a1a1a;white-space:pre;transform:scaleX(0.9000);transform-origin:center 0;-webkit-text-stroke:0.2px #1a1a1a;">56</div>
<div style="position:absolute;left:894.36px;top:249.90px;font:normal 8.5px/8.5px 'Liberation Sans', sans-serif;color:#1a1a1a;white-space:pre;transform:scaleX(0.7400);transform-origin:center 0;-webkit-text-stroke:0.25px #1a1a1a;">22:00</div>
<div style="position:absolute;left:557.90px;top:272.20px;font:normal 9px/9px 'Liberation Sans', sans-serif;color:#333;white-space:pre;transform:scaleX(0.9175);transform-origin:left 0;">Accumulated per hour</div>
<div style="position:absolute;left:556.21px;top:283.80px;font:normal 7px/7px 'Liberation Sans', sans-serif;color:#6c717a;white-space:pre;transform:scaleX(0.8500);transform-origin:right 0;">800</div>
<div style="position:absolute;left:556.21px;top:293.16px;font:normal 7px/7px 'Liberation Sans', sans-serif;color:#6c717a;white-space:pre;transform:scaleX(0.8500);transform-origin:right 0;">700</div>
<div style="position:absolute;left:556.21px;top:302.52px;font:normal 7px/7px 'Liberation Sans', sans-serif;color:#6c717a;white-space:pre;transform:scaleX(0.8500);transform-origin:right 0;">600</div>
<div style="position:absolute;left:556.21px;top:311.89px;font:normal 7px/7px 'Liberation Sans', sans-serif;color:#6c717a;white-space:pre;transform:scaleX(0.8500);transform-origin:right 0;">500</div>
<div style="position:absolute;left:556.21px;top:321.25px;font:normal 7px/7px 'Liberation Sans', sans-serif;color:#6c717a;white-space:pre;transform:scaleX(0.8500);transform-origin:right 0;">400</div>
<div style="position:absolute;left:556.21px;top:330.61px;font:normal 7px/7px 'Liberation Sans', sans-serif;color:#6c717a;white-space:pre;transform:scaleX(0.8500);transform-origin:right 0;">300</div>
<div style="position:absolute;left:556.21px;top:339.98px;font:normal 7px/7px 'Liberation Sans', sans-serif;color:#6c717a;white-space:pre;transform:scaleX(0.8500);transform-origin:right 0;">200</div>
<div style="position:absolute;left:556.21px;top:349.34px;font:normal 7px/7px 'Liberation Sans', sans-serif;color:#6c717a;white-space:pre;transform:scaleX(0.8500);transform-origin:right 0;">100</div>
<div style="position:absolute;left:563.99px;top:358.70px;font:normal 7px/7px 'Liberation Sans', sans-serif;color:#6c717a;white-space:pre;transform:scaleX(0.8500);transform-origin:right 0;">0</div>
<div style="position:absolute;left:582.96px;top:341.89px;font:normal 9.5px/9.5px 'Liberation Sans', sans-serif;color:#1a1a1a;white-space:pre;transform:scaleX(0.9000);transform-origin:center 0;-webkit-text-stroke:0.2px #1a1a1a;">14</div>
<div style="position:absolute;left:577.60px;top:370.90px;font:normal 8.5px/8.5px 'Liberation Sans', sans-serif;color:#1a1a1a;white-space:pre;transform:scaleX(0.7400);transform-origin:center 0;-webkit-text-stroke:0.25px #1a1a1a;">12:45</div>
<div style="position:absolute;left:614.65px;top:335.15px;font:normal 9.5px/9.5px 'Liberation Sans', sans-serif;color:#1a1a1a;white-space:pre;transform:scaleX(0.9000);transform-origin:center 0;-webkit-text-stroke:0.2px #1a1a1a;">86</div>
<div style="position:absolute;left:609.30px;top:370.90px;font:normal 8.5px/8.5px 'Liberation Sans', sans-serif;color:#1a1a1a;white-space:pre;transform:scaleX(0.7400);transform-origin:center 0;-webkit-text-stroke:0.25px #1a1a1a;">13:00</div>
<div style="position:absolute;left:643.70px;top:328.41px;font:normal 9.5px/9.5px 'Liberation Sans', sans-serif;color:#1a1a1a;white-space:pre;transform:scaleX(0.9000);transform-origin:center 0;-webkit-text-stroke:0.2px #1a1a1a;">158</div>
<div style="position:absolute;left:640.99px;top:370.90px;font:normal 8.5px/8.5px 'Liberation Sans', sans-serif;color:#1a1a1a;white-space:pre;transform:scaleX(0.7400);transform-origin:center 0;-webkit-text-stroke:0.25px #1a1a1a;">14:00</div>
<div style="position:absolute;left:675.39px;top:321.67px;font:normal 9.5px/9.5px 'Liberation Sans', sans-serif;color:#1a1a1a;white-space:pre;transform:scaleX(0.9000);transform-origin:center 0;-webkit-text-stroke:0.2px #1a1a1a;">230</div>
<div style="position:absolute;left:672.68px;top:370.90px;font:normal 8.5px/8.5px 'Liberation Sans', sans-serif;color:#1a1a1a;white-space:pre;transform:scaleX(0.7400);transform-origin:center 0;-webkit-text-stroke:0.25px #1a1a1a;">15:00</div>
<div style="position:absolute;left:707.08px;top:314.83px;font:normal 9.5px/9.5px 'Liberation Sans', sans-serif;color:#1a1a1a;white-space:pre;transform:scaleX(0.9000);transform-origin:center 0;-webkit-text-stroke:0.2px #1a1a1a;">303</div>
<div style="position:absolute;left:704.37px;top:370.90px;font:normal 8.5px/8.5px 'Liberation Sans', sans-serif;color:#1a1a1a;white-space:pre;transform:scaleX(0.7400);transform-origin:center 0;-webkit-text-stroke:0.25px #1a1a1a;">16:00</div>
<div style="position:absolute;left:738.77px;top:308.09px;font:normal 9.5px/9.5px 'Liberation Sans', sans-serif;color:#1a1a1a;white-space:pre;transform:scaleX(0.9000);transform-origin:center 0;-webkit-text-stroke:0.2px #1a1a1a;">375</div>
<div style="position:absolute;left:736.06px;top:370.90px;font:normal 8.5px/8.5px 'Liberation Sans', sans-serif;color:#1a1a1a;white-space:pre;transform:scaleX(0.7400);transform-origin:center 0;-webkit-text-stroke:0.25px #1a1a1a;">17:00</div>
<div style="position:absolute;left:770.46px;top:301.35px;font:normal 9.5px/9.5px 'Liberation Sans', sans-serif;color:#1a1a1a;white-space:pre;transform:scaleX(0.9000);transform-origin:center 0;-webkit-text-stroke:0.2px #1a1a1a;">447</div>
<div style="position:absolute;left:767.75px;top:370.90px;font:normal 8.5px/8.5px 'Liberation Sans', sans-serif;color:#1a1a1a;white-space:pre;transform:scaleX(0.7400);transform-origin:center 0;-webkit-text-stroke:0.25px #1a1a1a;">18:00</div>
<div style="position:absolute;left:802.15px;top:294.61px;font:normal 9.5px/9.5px 'Liberation Sans', sans-serif;color:#1a1a1a;white-space:pre;transform:scaleX(0.9000);transform-origin:center 0;-webkit-text-stroke:0.2px #1a1a1a;">519</div>
<div style="position:absolute;left:799.44px;top:370.90px;font:normal 8.5px/8.5px 'Liberation Sans', sans-serif;color:#1a1a1a;white-space:pre;transform:scaleX(0.7400);transform-origin:center 0;-webkit-text-stroke:0.25px #1a1a1a;">19:00</div>
<div style="position:absolute;left:833.84px;top:287.77px;font:normal 9.5px/9.5px 'Liberation Sans', sans-serif;color:#1a1a1a;white-space:pre;transform:scaleX(0.9000);transform-origin:center 0;-webkit-text-stroke:0.2px #1a1a1a;">592</div>
<div style="position:absolute;left:831.13px;top:370.90px;font:normal 8.5px/8.5px 'Liberation Sans', sans-serif;color:#1a1a1a;white-space:pre;transform:scaleX(0.7400);transform-origin:center 0;-webkit-text-stroke:0.25px #1a1a1a;">20:00</div>
<div style="position:absolute;left:865.53px;top:281.03px;font:normal 9.5px/9.5px 'Liberation Sans', sans-serif;color:#1a1a1a;white-space:pre;transform:scaleX(0.9000);transform-origin:center 0;-webkit-text-stroke:0.2px #1a1a1a;">664</div>
<div style="position:absolute;left:862.82px;top:370.90px;font:normal 8.5px/8.5px 'Liberation Sans', sans-serif;color:#1a1a1a;white-space:pre;transform:scaleX(0.7400);transform-origin:center 0;-webkit-text-stroke:0.25px #1a1a1a;">21:00</div>
<div style="position:absolute;left:897.22px;top:275.79px;font:normal 9.5px/9.5px 'Liberation Sans', sans-serif;color:#1a1a1a;white-space:pre;transform:scaleX(0.9000);transform-origin:center 0;-webkit-text-stroke:0.2px #1a1a1a;">720</div>
<div style="position:absolute;left:894.51px;top:370.90px;font:normal 8.5px/8.5px 'Liberation Sans', sans-serif;color:#1a1a1a;white-space:pre;transform:scaleX(0.7400);transform-origin:center 0;-webkit-text-stroke:0.25px #1a1a1a;">22:00</div>
<div style="position:absolute;left:928.4px;top:28.2px;width:47.60000000000002px;height:53.599999999999994px;background:#000;border-radius:3px;"></div>
<div style="position:absolute;left:928.4px;top:90.3px;width:47.60000000000002px;height:53.60000000000001px;background:#000;border-radius:3px;"></div>
<div style="position:absolute;left:928.4px;top:328.9px;width:47.60000000000002px;height:53.80000000000001px;background:#000;border-radius:3px;"></div>
<div style="position:absolute;left:187.2px;top:391px;width:47.80000000000001px;height:53.80000000000001px;background:#000;border-radius:3px;"></div>
<div style="position:absolute;left:877.1px;top:391px;width:47.69999999999993px;height:53.80000000000001px;background:#000;border-radius:3px;"></div>
<div style="position:absolute;left:928.4px;top:391px;width:47.60000000000002px;height:53.80000000000001px;background:#000;border-radius:3px;"></div>
<svg style="position:absolute;left:0;top:0" width="1266" height="512"><ellipse cx="952.1" cy="355.8" rx="16.1" ry="18.6" fill="none" stroke="#fff" stroke-width="1.9"/><path d="M946.2,348.3 H958 M952.1,348.3 V364.2" stroke="#fff" stroke-width="4.7" stroke-linecap="round" fill="none"/><ellipse cx="211.1" cy="417.9" rx="17.4" ry="19.7" fill="none" stroke="#fff" stroke-width="1.9"/><path d="M219.2,417.9 H202.8 M209.4,411.2 L203,417.9 L209.4,424.6" stroke="#fff" stroke-width="3.1" stroke-linecap="round" stroke-linejoin="round" fill="none"/><ellipse cx="900.95" cy="417.9" rx="17.5" ry="19.7" fill="none" stroke="#fff" stroke-width="1.9"/><path d="M892.6,417.9 H909.2 M902.6,411.2 L909,417.9 L902.6,424.6" stroke="#fff" stroke-width="3.1" stroke-linecap="round" stroke-linejoin="round" fill="none"/></svg>
<div style="position:absolute;left:936.30px;top:41.70px;font:normal 12px/12px 'Liberation Sans', sans-serif;color:#fff;white-space:pre;transform:scaleX(0.8824);transform-origin:left 0;-webkit-text-stroke:0.2px #fff;">Show</div>
<div style="position:absolute;left:936.30px;top:58.20px;font:normal 12px/12px 'Liberation Sans', sans-serif;color:#fff;white-space:pre;transform:scaleX(0.9256);transform-origin:left 0;-webkit-text-stroke:0.2px #fff;">pareto</div>
<div style="position:absolute;left:938.80px;top:103.80px;font:normal 12px/12px 'Liberation Sans', sans-serif;color:#fff;white-space:pre;transform:scaleX(0.8824);transform-origin:left 0;-webkit-text-stroke:0.2px #fff;">Show</div>
<div style="position:absolute;left:938.80px;top:120.30px;font:normal 12px/12px 'Liberation Sans', sans-serif;color:#fff;white-space:pre;transform:scaleX(0.9586);transform-origin:left 0;-webkit-text-stroke:0.2px #fff;">stops</div>
<div style="position:absolute;left:940.59px;top:413.50px;font:normal 12px/12px 'Liberation Sans', sans-serif;color:#fff;white-space:pre;transform:scaleX(0.9500);transform-origin:center 0;-webkit-text-stroke:0.2px #fff;">Now</div>
<div style="position:absolute;left:0;top:28px;width:299px;height:328px;background:rgba(255,255,255,0.76);"></div>
<div style="position:absolute;left:996px;top:28px;width:270px;height:368px;background:rgba(255,255,255,0.9);"></div>
<div style="position:absolute;left:318px;top:388px;width:154px;height:124px;background:rgba(255,255,255,0.85);"></div>
<div style="position:absolute;left:473px;top:388px;width:348px;height:124px;background:rgba(255,255,255,0.85);"></div>
<div style="position:absolute;left:328px;top:397px;width:143px;height:8.600000000000023px;background:#1f2631;"></div>
<div style="position:absolute;left:483px;top:397px;width:342px;height:8.600000000000023px;background:#1f2631;"></div>
<div style="position:absolute;left:988px;top:28px;width:8px;height:159.5px;background:linear-gradient(90deg,#8ea3bb,#4a5a6e 40%,#1c2430);"></div>
<div style="position:absolute;left:988px;top:217px;width:8px;height:179px;background:linear-gradient(90deg,#8ea3bb,#4a5a6e 40%,#1c2430);"></div>
<svg style="position:absolute;left:0;top:0" width="1266" height="512"><path d="M345.4,397 L372.5,290.4" stroke="#373737" stroke-width="7.6" fill="none"/><path d="M376.6,274.4 L359.7,294.1 L368.5,295.5 L381.6,299.6 Z" fill="#373737"/><path d="M303.8,129 L330,126.6" stroke="#373737" stroke-width="8.2" fill="none"/><path d="M344.6,126.1 L320.5,116.4 L322.2,139.7 Z" fill="#373737"/><path d="M374.41,27.27 L373.91,27.43 L373.39,27.63 L372.88,27.86 L372.39,28.12 L371.92,28.41 L371.46,28.72 L371.02,29.07 L370.60,29.44 L370.20,29.84 L369.82,30.27 L369.46,30.72 L369.12,31.21 L368.81,31.72 L368.53,32.26 L368.27,32.82 L368.03,33.41 L367.82,34.02 L367.64,34.66 L367.48,35.32 L367.35,36.00 L367.25,36.72 L367.17,37.45 L367.12,38.21 L367.10,39.00 L367.10,42.21 L367.10,45.42 L367.10,48.62 L367.10,51.83 L367.10,55.04 L367.10,58.25 L367.10,61.46 L367.10,64.67 L367.10,67.88 L367.10,71.08 L367.10,74.29 L367.10,77.50 L367.10,80.71 L367.10,83.92 L367.10,87.12 L367.10,90.33 L367.10,93.54 L367.10,96.75 L367.10,99.96 L367.10,103.17 L367.10,106.38 L367.10,109.58 L367.10,112.79 L367.10,115.99 L367.10,116.68 L367.07,117.33 L367.01,117.95 L366.93,118.55 L366.82,119.11 L366.68,119.65 L366.52,120.17 L366.33,120.66 L366.12,121.12 L365.89,121.55 L365.63,121.97 L365.35,122.36 L365.04,122.72 L364.71,123.07 L364.35,123.39 L363.96,123.70 L363.55,123.98 L363.11,124.24 L362.64,124.47 L362.14,124.69 L361.61,124.88 L361.05,125.05 L360.46,125.19 L359.86,125.31 L359.53,125.36 L359.12,125.42 L358.71,125.48 L358.31,125.54 L357.90,125.60 L357.50,125.66 L357.09,125.72 L356.68,125.78 L356.28,125.85 L355.87,125.91 L355.46,125.97 L355.06,126.03 L354.65,126.09 L354.25,126.15 L353.84,126.21 L353.43,126.27 L353.03,126.33 L352.62,126.39 L352.22,126.45 L351.81,126.51 L351.40,126.57 L351.00,126.63 L350.59,126.69 L350.18,126.75 L350.22,127.25 L350.63,127.26 L351.04,127.27 L351.45,127.28 L351.86,127.29 L352.27,127.30 L352.68,127.31 L353.09,127.32 L353.50,127.33 L353.91,127.34 L354.32,127.35 L354.73,127.36 L355.14,127.37 L355.55,127.38 L355.96,127.39 L356.37,127.40 L356.78,127.42 L357.19,127.43 L357.60,127.44 L358.01,127.45 L358.43,127.46 L358.84,127.47 L359.25,127.48 L359.66,127.49 L360.14,127.49 L360.89,127.38 L361.59,127.23 L362.28,127.06 L362.94,126.85 L363.58,126.60 L364.19,126.33 L364.77,126.01 L365.33,125.67 L365.86,125.29 L366.37,124.87 L366.84,124.42 L367.28,123.94 L367.69,123.43 L368.06,122.89 L368.40,122.32 L368.71,121.72 L368.98,121.09 L369.21,120.43 L369.41,119.75 L369.58,119.05 L369.71,118.32 L369.81,117.57 L369.87,116.80 L369.90,116.01 L369.90,112.79 L369.90,109.58 L369.90,106.38 L369.90,103.17 L369.90,99.96 L369.90,96.75 L369.90,93.54 L369.90,90.33 L369.90,87.12 L369.90,83.92 L369.90,80.71 L369.90,77.50 L369.90,74.29 L369.90,71.08 L369.90,67.88 L369.90,64.67 L369.90,61.46 L369.90,58.25 L369.90,55.04 L369.90,51.83 L369.90,48.62 L369.90,45.42 L369.90,42.21 L369.90,39.00 L369.90,38.31 L369.93,37.65 L369.98,37.03 L370.05,36.42 L370.15,35.85 L370.26,35.31 L370.39,34.79 L370.55,34.30 L370.72,33.83 L370.90,33.40 L371.11,32.98 L371.33,32.59 L371.56,32.23 L371.81,31.88 L372.08,31.56 L372.36,31.26 L372.66,30.98 L372.97,30.72 L373.29,30.47 L373.64,30.25 L373.99,30.05 L374.37,29.86 L374.76,29.69 L375.19,29.53 Z M350.18,127.25 L350.59,127.31 L351.00,127.37 L351.40,127.43 L351.81,127.49 L352.22,127.55 L352.62,127.61 L353.03,127.67 L353.43,127.73 L353.84,127.79 L354.25,127.85 L354.65,127.91 L355.06,127.97 L355.46,128.03 L355.87,128.09 L356.28,128.15 L356.68,128.22 L357.09,128.28 L357.50,128.34 L357.90,128.40 L358.31,128.46 L358.71,128.52 L359.12,128.58 L359.53,128.64 L359.86,128.69 L360.46,128.81 L361.05,128.95 L361.61,129.12 L362.14,129.31 L362.64,129.53 L363.11,129.76 L363.55,130.02 L363.96,130.30 L364.35,130.61 L364.71,130.93 L365.04,131.28 L365.35,131.64 L365.63,132.03 L365.89,132.45 L366.12,132.88 L366.33,133.34 L366.52,133.83 L366.68,134.35 L366.82,134.89 L366.93,135.45 L367.01,136.05 L367.07,136.67 L367.10,137.32 L367.10,138.01 L367.10,140.08 L367.10,142.17 L367.10,144.25 L367.10,146.33 L367.10,148.42 L367.10,150.50 L367.10,152.58 L367.10,154.67 L367.10,156.75 L367.10,158.83 L367.10,160.92 L367.10,163.00 L367.10,165.08 L367.10,167.17 L367.10,169.25 L367.10,171.33 L367.10,173.42 L367.10,175.50 L367.10,177.58 L367.10,179.67 L367.10,181.75 L367.10,183.83 L367.10,185.92 L367.10,188.01 L367.12,188.79 L367.17,189.55 L367.25,190.28 L367.35,190.99 L367.48,191.67 L367.64,192.33 L367.82,192.96 L368.03,193.57 L368.27,194.16 L368.53,194.71 L368.82,195.24 L369.13,195.75 L369.46,196.23 L369.82,196.68 L370.20,197.10 L370.60,197.49 L371.03,197.86 L371.47,198.20 L371.92,198.51 L372.40,198.79 L372.89,199.05 L373.39,199.27 L373.91,199.47 L374.41,199.63 L375.19,197.37 L374.75,197.21 L374.36,197.04 L373.99,196.86 L373.63,196.65 L373.29,196.43 L372.96,196.19 L372.65,195.94 L372.35,195.66 L372.07,195.36 L371.81,195.05 L371.56,194.71 L371.32,194.35 L371.10,193.97 L370.90,193.56 L370.71,193.13 L370.54,192.67 L370.39,192.19 L370.26,191.68 L370.15,191.14 L370.05,190.57 L369.98,189.97 L369.93,189.34 L369.90,188.69 L369.90,187.99 L369.90,185.92 L369.90,183.83 L369.90,181.75 L369.90,179.67 L369.90,177.58 L369.90,175.50 L369.90,173.42 L369.90,171.33 L369.90,169.25 L369.90,167.17 L369.90,165.08 L369.90,163.00 L369.90,160.92 L369.90,158.83 L369.90,156.75 L369.90,154.67 L369.90,152.58 L369.90,150.50 L369.90,148.42 L369.90,146.33 L369.90,144.25 L369.90,142.17 L369.90,140.08 L369.90,137.99 L369.87,137.20 L369.81,136.43 L369.71,135.68 L369.58,134.95 L369.41,134.25 L369.21,133.57 L368.98,132.91 L368.71,132.28 L368.40,131.68 L368.06,131.11 L367.69,130.57 L367.28,130.06 L366.84,129.58 L366.37,129.13 L365.86,128.71 L365.33,128.33 L364.77,127.99 L364.19,127.67 L363.58,127.40 L362.94,127.15 L362.28,126.94 L361.59,126.77 L360.89,126.62 L360.14,126.51 L359.66,126.51 L359.25,126.52 L358.84,126.53 L358.43,126.54 L358.01,126.55 L357.60,126.56 L357.19,126.57 L356.78,126.58 L356.37,126.60 L355.96,126.61 L355.55,126.62 L355.14,126.63 L354.73,126.64 L354.32,126.65 L353.91,126.66 L353.50,126.67 L353.09,126.68 L352.68,126.69 L352.27,126.70 L351.86,126.71 L351.45,126.72 L351.04,126.73 L350.63,126.74 L350.22,126.75 Z" fill="#333"/><path d="M382.20,358.31 L382.26,359.05 L382.36,359.81 L382.48,360.55 L382.64,361.28 L382.83,361.99 L383.06,362.68 L383.32,363.35 L383.62,364.00 L383.96,364.63 L384.34,365.23 L384.75,365.81 L385.20,366.35 L385.69,366.86 L386.22,367.34 L386.79,367.79 L387.40,368.19 L388.04,368.55 L388.72,368.87 L389.44,369.14 L390.18,369.37 L390.97,369.55 L391.78,369.68 L392.62,369.77 L393.49,369.80 L397.44,369.80 L401.38,369.80 L405.31,369.80 L409.25,369.80 L413.19,369.80 L417.12,369.80 L421.06,369.80 L425.00,369.80 L428.94,369.80 L432.88,369.80 L436.81,369.80 L440.75,369.80 L444.69,369.80 L448.62,369.80 L452.56,369.80 L456.50,369.80 L460.44,369.80 L464.38,369.80 L468.31,369.80 L472.25,369.80 L476.19,369.80 L480.12,369.80 L484.06,369.80 L488.00,369.80 L488.83,369.80 L489.65,369.82 L490.44,369.86 L491.22,369.92 L491.98,370.00 L492.71,370.11 L493.42,370.24 L494.11,370.39 L494.77,370.56 L495.40,370.75 L496.01,370.97 L496.58,371.21 L497.13,371.47 L497.65,371.75 L498.13,372.05 L498.58,372.37 L499.00,372.72 L499.39,373.09 L499.75,373.48 L500.07,373.89 L500.37,374.33 L500.63,374.80 L500.85,375.29 L501.02,375.71 L501.05,376.05 L501.11,376.57 L501.16,377.09 L501.22,377.61 L501.27,378.13 L501.33,378.65 L501.38,379.17 L501.43,379.69 L501.49,380.21 L501.54,380.73 L501.60,381.25 L501.65,381.77 L501.70,382.29 L501.76,382.81 L501.81,383.33 L501.87,383.85 L501.92,384.37 L501.98,384.89 L502.03,385.41 L502.08,385.93 L502.14,386.45 L502.19,386.97 L502.25,387.49 L502.30,388.01 L502.70,387.99 L502.72,387.47 L502.74,386.95 L502.76,386.43 L502.78,385.91 L502.80,385.38 L502.82,384.86 L502.85,384.34 L502.87,383.82 L502.89,383.30 L502.91,382.77 L502.93,382.25 L502.95,381.73 L502.97,381.21 L502.99,380.69 L503.01,380.16 L503.03,379.64 L503.05,379.12 L503.07,378.60 L503.10,378.07 L503.12,377.55 L503.14,377.03 L503.16,376.51 L503.18,375.99 L503.18,375.29 L502.93,374.49 L502.66,373.82 L502.34,373.19 L501.97,372.59 L501.56,372.02 L501.11,371.48 L500.61,370.97 L500.08,370.50 L499.52,370.06 L498.92,369.66 L498.30,369.28 L497.64,368.94 L496.96,368.63 L496.25,368.35 L495.52,368.10 L494.76,367.87 L493.98,367.67 L493.18,367.50 L492.36,367.36 L491.52,367.24 L490.66,367.14 L489.79,367.07 L488.90,367.02 L488.00,367.00 L484.06,367.00 L480.12,367.00 L476.19,367.00 L472.25,367.00 L468.31,367.00 L464.38,367.00 L460.44,367.00 L456.50,367.00 L452.56,367.00 L448.62,367.00 L444.69,367.00 L440.75,367.00 L436.81,367.00 L432.88,367.00 L428.94,367.00 L425.00,367.00 L421.06,367.00 L417.12,367.00 L413.19,367.00 L409.25,367.00 L405.31,367.00 L401.38,367.00 L397.44,367.00 L393.51,367.00 L392.78,366.99 L392.11,366.94 L391.47,366.85 L390.86,366.72 L390.29,366.56 L389.75,366.37 L389.24,366.15 L388.76,365.90 L388.31,365.62 L387.89,365.31 L387.50,364.97 L387.12,364.60 L386.78,364.20 L386.45,363.78 L386.15,363.32 L385.88,362.84 L385.63,362.34 L385.40,361.80 L385.20,361.25 L385.03,360.66 L384.88,360.06 L384.76,359.43 L384.67,358.78 L384.60,358.09 Z M502.70,388.01 L502.75,387.49 L502.81,386.97 L502.86,386.45 L502.92,385.93 L502.97,385.41 L503.02,384.89 L503.08,384.37 L503.13,383.85 L503.19,383.33 L503.24,382.81 L503.30,382.29 L503.35,381.77 L503.40,381.25 L503.46,380.73 L503.51,380.21 L503.57,379.69 L503.62,379.17 L503.67,378.65 L503.73,378.13 L503.78,377.61 L503.84,377.09 L503.89,376.57 L503.95,376.05 L503.98,375.71 L504.15,375.29 L504.37,374.80 L504.63,374.33 L504.93,373.89 L505.25,373.48 L505.61,373.09 L506.00,372.72 L506.42,372.37 L506.87,372.05 L507.35,371.75 L507.87,371.47 L508.42,371.21 L508.99,370.97 L509.60,370.75 L510.23,370.56 L510.89,370.39 L511.58,370.24 L512.29,370.11 L513.02,370.00 L513.78,369.92 L514.56,369.86 L515.35,369.82 L516.17,369.80 L517.01,369.80 L517.62,369.80 L518.25,369.80 L518.88,369.80 L519.50,369.80 L520.12,369.80 L520.75,369.80 L521.38,369.80 L522.00,369.80 L522.62,369.80 L523.25,369.80 L523.88,369.80 L524.50,369.80 L525.12,369.80 L525.75,369.80 L526.38,369.80 L527.00,369.80 L527.62,369.80 L528.25,369.80 L528.88,369.80 L529.50,369.80 L530.12,369.80 L530.75,369.80 L531.38,369.80 L532.02,369.80 L532.87,369.77 L533.72,369.68 L534.53,369.55 L535.31,369.37 L536.05,369.15 L536.76,368.88 L537.43,368.56 L538.07,368.20 L538.67,367.81 L539.22,367.37 L539.74,366.90 L540.22,366.40 L540.66,365.87 L541.06,365.31 L541.43,364.72 L541.75,364.11 L542.03,363.48 L542.27,362.83 L542.48,362.17 L542.66,361.49 L542.79,360.79 L542.90,360.09 L542.96,359.37 L543.00,358.67 L540.60,358.53 L540.56,359.17 L540.48,359.77 L540.38,360.35 L540.26,360.92 L540.10,361.46 L539.92,361.99 L539.72,362.49 L539.48,362.97 L539.23,363.43 L538.94,363.86 L538.63,364.27 L538.30,364.65 L537.94,365.01 L537.56,365.34 L537.14,365.64 L536.70,365.91 L536.23,366.16 L535.73,366.38 L535.20,366.57 L534.63,366.72 L534.03,366.85 L533.39,366.94 L532.71,366.99 L531.98,367.00 L531.38,367.00 L530.75,367.00 L530.12,367.00 L529.50,367.00 L528.88,367.00 L528.25,367.00 L527.62,367.00 L527.00,367.00 L526.38,367.00 L525.75,367.00 L525.12,367.00 L524.50,367.00 L523.88,367.00 L523.25,367.00 L522.62,367.00 L522.00,367.00 L521.38,367.00 L520.75,367.00 L520.12,367.00 L519.50,367.00 L518.88,367.00 L518.25,367.00 L517.62,367.00 L516.99,367.00 L516.10,367.02 L515.21,367.07 L514.34,367.14 L513.48,367.24 L512.64,367.36 L511.82,367.50 L511.02,367.67 L510.24,367.87 L509.48,368.10 L508.75,368.35 L508.04,368.63 L507.36,368.94 L506.70,369.28 L506.08,369.66 L505.48,370.06 L504.92,370.50 L504.39,370.97 L503.89,371.48 L503.44,372.02 L503.03,372.59 L502.66,373.19 L502.34,373.82 L502.07,374.49 L501.82,375.29 L501.82,375.99 L501.84,376.51 L501.86,377.03 L501.88,377.55 L501.90,378.07 L501.93,378.60 L501.95,379.12 L501.97,379.64 L501.99,380.16 L502.01,380.69 L502.03,381.21 L502.05,381.73 L502.07,382.25 L502.09,382.77 L502.11,383.30 L502.13,383.82 L502.15,384.34 L502.18,384.86 L502.20,385.38 L502.22,385.91 L502.24,386.43 L502.26,386.95 L502.28,387.47 L502.30,387.99 Z" fill="#333"/></svg>
<div style="position:absolute;left:10.20px;top:35.50px;font:bold 15px/15px 'Liberation Sans', sans-serif;color:#000;white-space:pre;transform:scaleX(1.0898);transform-origin:left 0;-webkit-text-stroke:0.25px #000;">Total time</div>
<div style="position:absolute;left:10.20px;top:54.60px;font:normal 15px/15px 'Liberation Sans', sans-serif;color:#000;white-space:pre;transform:scaleX(1.0693);transform-origin:left 0;-webkit-text-stroke:0.25px #000;">Scheduled time + break – excluded</div>
<div style="position:absolute;left:10.20px;top:73.70px;font:normal 15px/15px 'Liberation Sans', sans-serif;color:#000;white-space:pre;transform:scaleX(1.1115);transform-origin:left 0;-webkit-text-stroke:0.25px #000;">stop time from schedule</div>
<div style="position:absolute;left:10.20px;top:106.60px;font:bold 15px/15px 'Liberation Sans', sans-serif;color:#000;white-space:pre;transform:scaleX(1.0374);transform-origin:left 0;-webkit-text-stroke:0.25px #000;">Scheduled time</div>
<div style="position:absolute;left:10.20px;top:125.50px;font:normal 15px/15px 'Liberation Sans', sans-serif;color:#000;white-space:pre;transform:scaleX(1.0734);transform-origin:left 0;-webkit-text-stroke:0.25px #000;">Scheduled time</div>
<div style="position:absolute;left:10.20px;top:155.80px;font:bold 15px/15px 'Liberation Sans', sans-serif;color:#000;white-space:pre;transform:scaleX(1.0311);transform-origin:left 0;-webkit-text-stroke:0.25px #000;">Break</div>
<div style="position:absolute;left:10.20px;top:174.80px;font:normal 15px/15px 'Liberation Sans', sans-serif;color:#000;white-space:pre;transform:scaleX(1.0693);transform-origin:left 0;-webkit-text-stroke:0.25px #000;">Time scheduled as break</div>
<div style="position:absolute;left:10.20px;top:205.60px;font:bold 15px/15px 'Liberation Sans', sans-serif;color:#000;white-space:pre;transform:scaleX(1.0423);transform-origin:left 0;-webkit-text-stroke:0.25px #000;">Production time</div>
<div style="position:absolute;left:10.20px;top:224.60px;font:normal 15px/15px 'Liberation Sans', sans-serif;color:#000;white-space:pre;transform:scaleX(1.0877);transform-origin:left 0;-webkit-text-stroke:0.25px #000;">Time with Status=&#x27;Ok&#x27;</div>
<div style="position:absolute;left:10.20px;top:254.70px;font:bold 15px/15px 'Liberation Sans', sans-serif;color:#000;white-space:pre;transform:scaleX(1.0433);transform-origin:left 0;-webkit-text-stroke:0.25px #000;">Stop time</div>
<div style="position:absolute;left:10.20px;top:273.40px;font:normal 15px/15px 'Liberation Sans', sans-serif;color:#000;white-space:pre;transform:scaleX(1.1500);transform-origin:left 0;-webkit-text-stroke:0.25px #000;">Total time with</div>
<div style="position:absolute;left:10.20px;top:293.10px;font:normal 15px/15px 'Liberation Sans', sans-serif;color:#000;white-space:pre;transform:scaleX(1.0754);transform-origin:left 0;-webkit-text-stroke:0.25px #000;">Status=&#x27;Stop&#x27;</div>
<div style="position:absolute;left:10.20px;top:311.90px;font:normal 15px/15px 'Liberation Sans', sans-serif;color:#000;white-space:pre;transform:scaleX(1.0809);transform-origin:left 0;-webkit-text-stroke:0.25px #000;">Status=&#x27;Setup&#x27;</div>
<div style="position:absolute;left:10.20px;top:330.90px;font:normal 15px/15px 'Liberation Sans', sans-serif;color:#000;white-space:pre;transform:scaleX(1.1102);transform-origin:left 0;-webkit-text-stroke:0.25px #000;">Status=&#x27;No work time&quot;</div>
<div style="position:absolute;left:1009.50px;top:35.90px;font:bold 15px/15px 'Liberation Sans', sans-serif;color:#000;white-space:pre;transform:scaleX(1.0411);transform-origin:left 0;-webkit-text-stroke:0.25px #000;">Stop coded with a reason that is</div>
<div style="position:absolute;left:1009.50px;top:54.40px;font:bold 15px/15px 'Liberation Sans', sans-serif;color:#000;white-space:pre;transform:scaleX(0.9937);transform-origin:left 0;-webkit-text-stroke:0.25px #000;">&quot;Excluded from OEE&quot;</div>
<div style="position:absolute;left:1009.50px;top:73.70px;font:normal 15px/15px 'Liberation Sans', sans-serif;color:#000;white-space:pre;transform:scaleX(1.0797);transform-origin:left 0;-webkit-text-stroke:0.25px #000;">Appears in Pareto but does not</div>
<div style="position:absolute;left:1009.50px;top:92.60px;font:normal 15px/15px 'Liberation Sans', sans-serif;color:#000;white-space:pre;transform:scaleX(1.0578);transform-origin:left 0;-webkit-text-stroke:0.25px #000;">affect the OEE</div>
<div style="position:absolute;left:1009.50px;top:220.90px;font:bold 15px/15px 'Liberation Sans', sans-serif;color:#000;white-space:pre;transform:scaleX(1.0411);transform-origin:left 0;-webkit-text-stroke:0.25px #000;">Stop coded with a reason that is</div>
<div style="position:absolute;left:1009.50px;top:239.40px;font:bold 15px/15px 'Liberation Sans', sans-serif;color:#000;white-space:pre;transform:scaleX(1.0245);transform-origin:left 0;-webkit-text-stroke:0.25px #000;">&quot;Excluded from schedule&quot;</div>
<div style="position:absolute;left:1009.50px;top:258.70px;font:normal 15px/15px 'Liberation Sans', sans-serif;color:#000;white-space:pre;transform:scaleX(1.0648);transform-origin:left 0;-webkit-text-stroke:0.25px #000;">Remove scheduled time and does</div>
<div style="position:absolute;left:1009.50px;top:277.60px;font:normal 15px/15px 'Liberation Sans', sans-serif;color:#000;white-space:pre;transform:scaleX(1.0792);transform-origin:left 0;-webkit-text-stroke:0.25px #000;">not appears in Pareto</div>
<div style="position:absolute;left:328.00px;top:408.40px;font:bold 15px/15px 'Liberation Sans', sans-serif;color:#000;white-space:pre;transform:scaleX(0.9894);transform-origin:left 0;-webkit-text-stroke:0.25px #000;">OEE-goal</div>
<div style="position:absolute;left:328.00px;top:427.50px;font:normal 15px/15px 'Liberation Sans', sans-serif;color:#000;white-space:pre;transform:scaleX(1.0468);transform-origin:left 0;-webkit-text-stroke:0.25px #000;">Goal is set on the</div>
<div style="position:absolute;left:328.00px;top:446.50px;font:normal 15px/15px 'Liberation Sans', sans-serif;color:#000;white-space:pre;transform:scaleX(1.0850);transform-origin:left 0;-webkit-text-stroke:0.25px #000;">measurem point</div>
<div style="position:absolute;left:328.00px;top:465.80px;font:normal 15px/15px 'Liberation Sans', sans-serif;color:#000;white-space:pre;transform:scaleX(1.1087);transform-origin:left 0;-webkit-text-stroke:0.25px #000;">or at the article</div>
<div style="position:absolute;left:328.00px;top:485.00px;font:normal 15px/15px 'Liberation Sans', sans-serif;color:#000;white-space:pre;transform:scaleX(1.1063);transform-origin:left 0;-webkit-text-stroke:0.25px #000;">settings</div>
<div style="position:absolute;left:482.50px;top:408.40px;font:bold 15px/15px 'Liberation Sans', sans-serif;color:#000;white-space:pre;transform:scaleX(0.8836);transform-origin:left 0;-webkit-text-stroke:0.25px #000;">OEE</div>
<div style="position:absolute;left:482.50px;top:427.50px;font:normal 15px/15px 'Liberation Sans', sans-serif;color:#000;white-space:pre;transform:scaleX(0.9146);transform-origin:left 0;-webkit-text-stroke:0.25px #000;">BLACK</div>
<div style="position:absolute;left:482.50px;top:446.50px;font:normal 15px/15px 'Liberation Sans', sans-serif;color:#000;white-space:pre;transform:scaleX(0.8999);transform-origin:left 0;-webkit-text-stroke:0.25px #000;">RED</div>
<div style="position:absolute;left:482.50px;top:465.80px;font:normal 15px/15px 'Liberation Sans', sans-serif;color:#000;white-space:pre;transform:scaleX(0.9435);transform-origin:left 0;-webkit-text-stroke:0.25px #000;">YELLOW</div>
<div style="position:absolute;left:482.50px;top:485.00px;font:normal 15px/15px 'Liberation Sans', sans-serif;color:#000;white-space:pre;transform:scaleX(0.9725);transform-origin:left 0;-webkit-text-stroke:0.25px #000;">WHITE</div>
<div style="position:absolute;left:578.60px;top:427.50px;font:normal 15px/15px 'Liberation Sans', sans-serif;color:#000;white-space:pre;transform:scaleX(0.8773);transform-origin:left 0;-webkit-text-stroke:0.25px #000;">OEE</div>
<div style="position:absolute;left:578.60px;top:446.80px;font:normal 15px/15px 'Liberation Sans', sans-serif;color:#000;white-space:pre;transform:scaleX(1.0631);transform-origin:left 0;-webkit-text-stroke:0.25px #000;">Stop losses (O)</div>
<div style="position:absolute;left:578.60px;top:466.20px;font:normal 15px/15px 'Liberation Sans', sans-serif;color:#000;white-space:pre;transform:scaleX(1.0400);transform-origin:left 0;-webkit-text-stroke:0.25px #000;">Speed losses (E)</div>
<div style="position:absolute;left:578.60px;top:485.10px;font:normal 15px/15px 'Liberation Sans', sans-serif;color:#000;white-space:pre;transform:scaleX(1.0662);transform-origin:left 0;-webkit-text-stroke:0.25px #000;">Quality losses &quot;Scraps&quot; (E)</div>
</body></html>
